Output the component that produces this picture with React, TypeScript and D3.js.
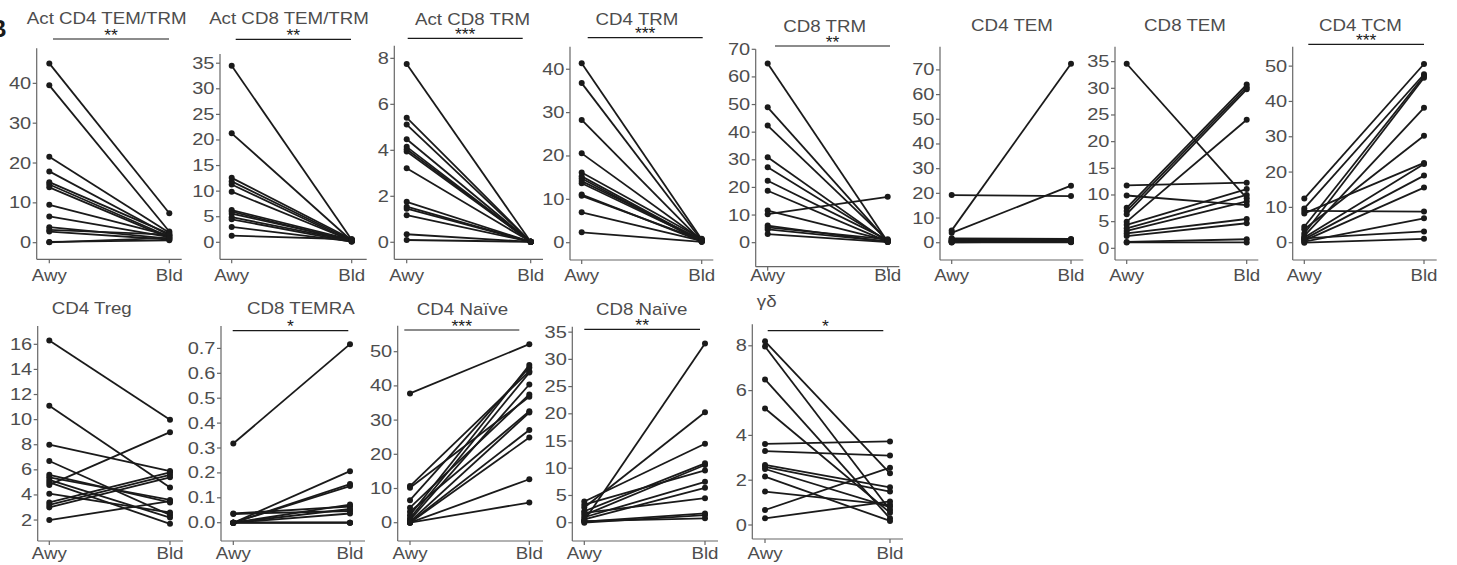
import React from 'react';
import * as d3 from 'd3';

// ---------- DATA ----------
const groups = ['Awy', 'Bld'];
const titles = [
  'Act CD4 TEM/TRM', 'Act CD8 TEM/TRM', 'Act CD8 TRM', 'CD4 TRM', 'CD8 TRM', 'CD4 TEM', 'CD8 TEM', 'CD4 TCM',
  'CD4 Treg', 'CD8 TEMRA', 'CD4 Naïve', 'CD8 Naïve', 'γδ',
];
const significance = ['**', '**', '***', '***', '**', '', '', '***', '', '*', '***', '**', '*'];

const actCd4TemTrmAwy = [45, 39.5, 21.6, 17.9, 15.2, 14.6, 13.9, 9.5, 6.6, 3.9, 3.2, 2.8, 0.2, 0.1];
const actCd4TemTrmBld = [7.4, 2.8, 2.5, 1.8, 2.2, 1.5, 1.2, 1.8, 1.4, 1.0, 2.0, 0.8, 0.6, 1.2];
const actCd8TemTrmAwy = [34.5, 21.3, 12.6, 11.9, 11.3, 9.9, 6.3, 6.0, 5.6, 4.9, 4.5, 3.0, 1.3];
const actCd8TemTrmBld = [0.5, 0.3, 0.6, 0.4, 0.2, 0.3, 0.5, 0.2, 0.4, 0.3, 0.1, 0.2, 0.6];
const actCd8TrmAwy = [7.75, 5.42, 5.12, 4.48, 4.15, 4.05, 3.95, 3.22, 1.76, 1.55, 1.46, 1.18, 0.35, 0.1];
const actCd8TrmBld = [0.02, 0.02, 0.02, 0.02, 0.02, 0.02, 0.02, 0.02, 0.02, 0.02, 0.02, 0.02, 0.02, 0.02];
const cd4TrmAwy = [41.4, 36.8, 28.3, 20.6, 16.2, 15.3, 14.8, 14.2, 13.7, 11.1, 10.8, 7.0, 2.4];
const cd4TrmBld = [0.8, 0.5, 0.3, 0.6, 0.9, 0.4, 0.2, 0.7, 0.5, 0.3, 0.6, 0.4, 0.2];
const cd8TrmAwy = [64.9, 49.0, 42.4, 30.9, 27.3, 22.4, 18.8, 11.6, 10.3, 6.2, 5.5, 4.8, 3.1];
const cd8TrmBld = [0.3, 0.5, 0.8, 0.2, 0.6, 1.0, 0.4, 0.7, 16.6, 0.3, 1.2, 0.5, 0.2];
const cd4TemAwy = [19.3, 5.0, 4.0, 1.8, 1.5, 1.2, 1.0, 0.8, 0.6, 0.5, 0.3, 0.2, 0.1];
const cd4TemBld = [18.9, 72.5, 23.1, 1.5, 1.2, 0.9, 1.3, 0.6, 0.5, 0.8, 0.3, 0.4, 0.2];
const cd8TemAwy = [34.6, 11.8, 9.9, 7.6, 7.0, 6.4, 5.0, 4.4, 3.75, 3.25, 2.8, 2.3, 1.2, 1.1];
const cd8TemBld = [9.4, 12.3, 8.1, 30.7, 30.2, 29.8, 24.1, 11.1, 10.0, 8.8, 5.5, 4.7, 1.7, 1.1];
const cd4TcmAwy = [12.5, 9.7, 9.0, 8.3, 4.5, 3.8, 2.6, 1.9, 1.5, 1.0, 0.6, 0.3, 1.2, 0.0];
const cd4TcmBld = [50.6, 47.7, 8.8, 22.6, 47.2, 30.3, 46.7, 38.2, 22.3, 19.0, 15.6, 6.9, 3.2, 1.1];
const cd4TregAwy = [16.3, 11.1, 8.0, 6.7, 5.6, 5.4, 5.2, 4.8, 5.0, 4.1, 3.4, 3.2, 3.0, 2.0];
const cd4TregBld = [10.0, 4.6, 5.9, 2.4, 3.4, 3.6, 2.2, 9.0, 1.7, 2.6, 5.8, 5.6, 5.4, 3.5];
const cd8TemraAwy = [0.318, 0.037, 0.035, 0, 0, 0, 0, 0, 0, 0, 0, 0];
const cd8TemraBld = [0.717, 0.065, 0.047, 0.207, 0.155, 0.147, 0.073, 0.055, 0.037, 0.0, 0.0, 0.0];
const cd4NaiveAwy = [37.8, 10.7, 10.2, 6.6, 4.4, 3.2, 2.2, 1.3, 0.8, 0.3, 0.1, 0.0, 0.0, 0.0];
const cd4NaiveBld = [52.2, 44.3, 36.8, 45.4, 37.5, 32.6, 46.1, 43.9, 40.4, 32.2, 27.1, 24.9, 12.7, 5.9];
const cd8NaiveAwy = [0.4, 2.8, 3.9, 2.1, 1.4, 3.3, 1.0, 0.6, 1.8, 0.2, 0.0, 0.3];
const cd8NaiveBld = [32.9, 20.3, 14.5, 10.9, 10.6, 9.6, 7.5, 6.4, 4.5, 1.7, 1.4, 0.8];
const gdAwy = [8.2, 7.97, 6.5, 5.2, 3.62, 3.3, 2.68, 2.6, 2.5, 2.16, 1.49, 0.67, 0.3];
const gdBld = [2.31, 0.67, 0.3, 0.55, 3.73, 3.1, 1.68, 1.49, 0.8, 0.18, 0.9, 2.56, 1.05];

const awyValues = [actCd4TemTrmAwy, actCd8TemTrmAwy, actCd8TrmAwy, cd4TrmAwy, cd8TrmAwy, cd4TemAwy, cd8TemAwy, cd4TcmAwy, cd4TregAwy, cd8TemraAwy, cd4NaiveAwy, cd8NaiveAwy, gdAwy];
const bldValues = [actCd4TemTrmBld, actCd8TemTrmBld, actCd8TrmBld, cd4TrmBld, cd8TrmBld, cd4TemBld, cd8TemBld, cd4TcmBld, cd4TregBld, cd8TemraBld, cd4NaiveBld, cd8NaiveBld, gdBld];

const ticks = [
  [0, 10, 20, 30, 40],
  [0, 5, 10, 15, 20, 25, 30, 35],
  [0, 2, 4, 6, 8],
  [0, 10, 20, 30, 40],
  [0, 10, 20, 30, 40, 50, 60, 70],
  [0, 10, 20, 30, 40, 50, 60, 70],
  [0, 5, 10, 15, 20, 25, 30, 35],
  [0, 10, 20, 30, 40, 50],
  [2, 4, 6, 8, 10, 12, 14, 16],
  [0, 0.1, 0.2, 0.3, 0.4, 0.5, 0.6, 0.7],
  [0, 10, 20, 30, 40, 50],
  [0, 5, 10, 15, 20, 25, 30, 35],
  [0, 2, 4, 6, 8],
];
const domains = [
  [-4.17, 48.8], [-3.32, 36.8], [-0.74, 8.55], [-3.99, 45.2], [-8.7, 70.0], [-7.0, 79.4], [-2.19, 37.8], [-4.9, 55.5],
  [0.33, 17.46], [-0.0735, 0.79], [-5.35, 57.6], [-3.36, 36.0], [-0.625, 8.96],
];

// ---------- LAYOUT (panel frames, pixels) ----------
// axisX, awyX, bldX, xEnd, top, bottom, titleX, titleY, sigX1, sigX2, sigY
const layout = [
  [36.7, 49.3, 169.3, 181.7, 48.3, 259.3, 106.7, 24, 53, 169, 39],
  [220, 231.7, 351.7, 366.7, 54, 259.3, 289, 24, 235.7, 351, 39.3],
  [394.3, 406.7, 530.7, 543, 45.7, 259.3, 472.5, 25, 407.7, 522.7, 38.3],
  [570, 581.7, 701.7, 713.3, 46.7, 260, 637, 25, 587.7, 702.7, 37.7],
  [755.7, 767.7, 887.7, 899.3, 49.3, 266.7, 824.7, 31.5, 775, 890, 46],
  [940, 951.7, 1071, 1083.3, 46.7, 260, 1012, 31, 0, 0, 0],
  [1115, 1126.7, 1246.7, 1258.3, 46.7, 260, 1185, 31, 0, 0, 0],
  [1292.7, 1304.3, 1424, 1436.7, 46.7, 260, 1360.5, 31, 1308.3, 1424, 44.3],
  [37.7, 49.3, 170, 183, 326, 541, 91.7, 314, 0, 0, 0],
  [221, 233.3, 350, 365, 326, 541, 300.8, 313.5, 232.7, 348.3, 330.7],
  [397.7, 410, 529.3, 543, 325.7, 541, 462.5, 314.5, 404.3, 519.3, 330],
  [572.3, 584.3, 705, 718, 326.7, 541, 641.7, 315, 584.3, 700, 329.3],
  [752.3, 765, 890, 903, 324.3, 539, 766.7, 307, 767.7, 883.3, 330.7],
];
const rowLabelY = [281, 559];

const FONT = '"Liberation Sans", Arial, Helvetica, sans-serif';
const TEXT = '#4d4d4d';
const AXIS = '#666';
const INK = '#1a1a1a';

function Stretched({ x, y, sx = 1.17, anchor = 'middle', size = 16, fill = TEXT, children }: any) {
  return (
    <text transform={`translate(${x},${y}) scale(${sx},1)`} textAnchor={anchor} fontSize={size} fill={fill} fontFamily={FONT}>
      {children}
    </text>
  );
}

function Panel({ i }: { i: number }) {
  const [axisX, awyX, bldX, xEnd, top, bottom, titleX, titleY, s1, s2, sy] = layout[i];
  const x = d3.scalePoint<string>().domain(groups).range([awyX, bldX]);
  const y = d3.scaleLinear().domain(domains[i]).range([bottom, top]);
  const fmt = i === 9 ? d3.format('.1f') : d3.format('d');
  const row = i < 8 ? 0 : 1;
  const pairs = awyValues[i].map((a, k) => [a, bldValues[i][k]]);
  const line = d3.line<[string, number]>().x((d) => x(d[0])!).y((d) => y(d[1]));
  return (
    <g>
      <line x1={axisX} x2={axisX} y1={top} y2={bottom} stroke={AXIS} strokeWidth={1.2} />
      <line x1={axisX} x2={xEnd} y1={bottom} y2={bottom} stroke={AXIS} strokeWidth={1.2} />
      {ticks[i].map((t) => (
        <g key={t}>
          <line x1={axisX - 4} x2={axisX} y1={y(t)} y2={y(t)} stroke={AXIS} strokeWidth={1.2} />
          <Stretched x={axisX - 5.5} y={y(t) + 5.5} anchor="end" sx={1.25}>{fmt(t)}</Stretched>
        </g>
      ))}
      {groups.map((g) => (
        <g key={g}>
          <line x1={x(g)} x2={x(g)} y1={bottom} y2={bottom + 4} stroke={AXIS} strokeWidth={1.2} />
          <Stretched x={x(g)} y={rowLabelY[row]}>{g}</Stretched>
        </g>
      ))}
      <Stretched x={titleX} y={titleY}>{titles[i]}</Stretched>
      {significance[i] && (
        <g>
          <line x1={s1} x2={s2} y1={sy} y2={sy} stroke={INK} strokeWidth={1.2} />
          <Stretched x={(s1 + s2) / 2} y={sy + 1.5} fill={INK} sx={1.1}>{significance[i]}</Stretched>
        </g>
      )}
      {pairs.map((p, k) => (
        <path key={k} d={line([[groups[0], p[0]], [groups[1], p[1]]])!} fill="none" stroke={INK} strokeWidth={1.8} />
      ))}
      {pairs.map((p, k) => (
        <g key={'d' + k}>
          <circle cx={x(groups[0])} cy={y(p[0])} r={3} fill={INK} />
          <circle cx={x(groups[1])} cy={y(p[1])} r={3} fill={INK} />
        </g>
      ))}
    </g>
  );
}

export default function App() {
  return (
    <svg width={1457} height={565} style={{ position: 'absolute', left: 0, top: 0, background: '#fff' }}>
      <rect width={1457} height={565} fill="#fff" />
      <text x={6.5} y={37} textAnchor="end" fontSize={24} fontWeight="bold" fill={INK} fontFamily={FONT}>B</text>
      {titles.map((_, i) => (
        <Panel key={i} i={i} />
      ))}
    </svg>
  );
}
